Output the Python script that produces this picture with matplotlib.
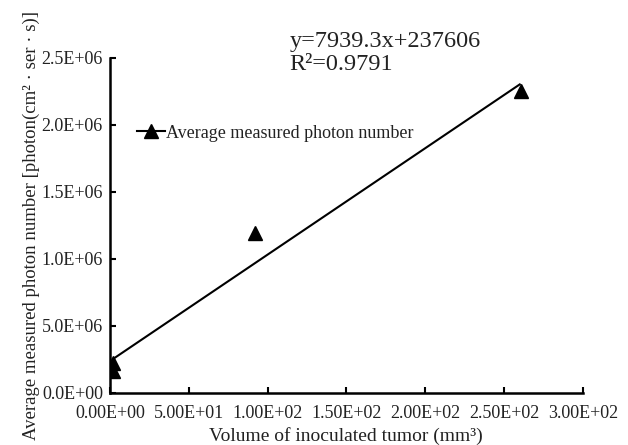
import numpy as np
from matplotlib import pyplot as plt

plt.rc('font', family='Liberation Serif')

# measured points
volume = [2.0, 2.0, 92.0, 261.0]
photons = [2.25e5, 1.6e5, 1.19e6, 2.25e6]

# linear fit shown on the chart
slope = 7939.3
intercept = 237606
fit_x = [2.0, 260.0]

x_ticks = [0, 50, 100, 150, 200, 250, 300]
x_labels = ['0.00E+00', '5.00E+01', '1.00E+02', '1.50E+02',
            '2.00E+02', '2.50E+02', '3.00E+02']
y_ticks = [0, 0.5e6, 1.0e6, 1.5e6, 2.0e6, 2.5e6]
y_labels = ['0.0E+00', '5.0E+06', '1.0E+06', '1.5E+06', '2.0E+06', '2.5E+06']

TXT = '#222222'


def main():
    fig = plt.figure(figsize=(6.28, 4.45), dpi=100)
    ax = fig.add_axes([0.175, 0.117, 0.753, 0.753])

    fx = np.array(fit_x)
    ax.plot(fx, slope * fx + intercept, color='black', lw=1.5)
    ax.plot(volume, photons, linestyle='none', marker='^', ms=10,
            color='black')

    # legend entry drawn as line+marker
    ax.plot([], [], color='black', marker='^', ms=10, lw=1.5,
            label='Average measured photon number')
    leg = ax.legend(loc='upper left', bbox_to_anchor=(0.043, 0.822),
                    frameon=False, fontsize=13, handlelength=1.5,
                    handletextpad=0.1, borderaxespad=0)
    for t in leg.get_texts():
        t.set_color(TXT)

    ax.text(0.38, 1.05, 'y=7939.3x+237606', transform=ax.transAxes,
            fontsize=17.5, color=TXT, va='center')
    ax.text(0.38, 0.98, 'R²=0.9791', transform=ax.transAxes,
            fontsize=17.5, color=TXT, va='center')

    ax.set_xlim(0, 300)
    ax.set_ylim(0, 2.5e6)
    ax.set_xticks(x_ticks)
    ax.set_xticklabels(x_labels)
    ax.set_yticks(y_ticks)
    ax.set_yticklabels(y_labels)
    ax.tick_params(direction='in', length=4, width=1.5, labelsize=13,
                   labelcolor=TXT)
    ax.tick_params(axis='x', pad=9)
    ax.tick_params(axis='y', pad=5)

    for s in ['top', 'right']:
        ax.spines[s].set_visible(False)
    for s in ['left', 'bottom']:
        ax.spines[s].set_linewidth(1.8)

    ax.set_xlabel('Volume of inoculated tumor (mm³)', fontsize=14,
                  color=TXT, labelpad=3)
    ax.set_ylabel('Average measured photon number [photon(cm² · ser · s)]',
                  fontsize=13.5, color=TXT, labelpad=1)

    plt.savefig('out.png', dpi=100)


if __name__ == '__main__':
    main()
